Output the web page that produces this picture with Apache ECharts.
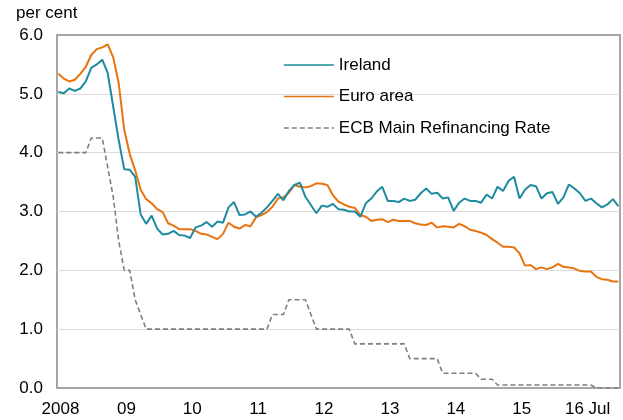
<!DOCTYPE html>
<html>
<head>
<meta charset="utf-8">
<script src="https://cdn.jsdelivr.net/npm/echarts@6/dist/echarts.min.js"></script>
<style>
html,body{margin:0;padding:0;background:#fff;}
#chart{width:623px;height:420px;}
</style>
</head>
<body>
<div id="chart"></div>
<script>
// Monthly data, Jan 2008 .. Jul 2016 (month index 0..102)
var ireland = [
  5.03,5.01,5.09,5.05,5.09,5.21,5.44,5.50,5.58,5.35,4.78,4.21,
  3.72,3.71,3.59,2.95,2.79,2.93,2.71,2.61,2.62,2.67,2.60,2.59,
  2.55,2.73,2.76,2.82,2.74,2.83,2.81,3.07,3.16,2.94,2.95,3.00,
  2.91,2.98,3.07,3.18,3.30,3.19,3.35,3.45,3.49,3.25,3.11,2.97,
  3.10,3.08,3.13,3.04,3.03,3.00,3.00,2.91,3.14,3.22,3.34,3.42,
  3.18,3.18,3.16,3.22,3.18,3.20,3.31,3.39,3.30,3.32,3.22,3.24,
  3.01,3.15,3.22,3.18,3.18,3.15,3.29,3.22,3.42,3.35,3.52,3.59,
  3.22,3.37,3.45,3.43,3.22,3.31,3.33,3.13,3.24,3.46,3.39,3.31,
  3.18,3.22,3.14,3.07,3.12,3.21,3.09
];
var euroArea = [
  5.34,5.26,5.21,5.24,5.34,5.46,5.66,5.76,5.79,5.84,5.62,5.18,
  4.39,3.98,3.70,3.37,3.21,3.14,3.04,2.99,2.80,2.76,2.70,2.70,
  2.70,2.67,2.62,2.61,2.57,2.53,2.62,2.81,2.74,2.71,2.77,2.75,
  2.90,2.94,2.99,3.08,3.22,3.24,3.32,3.45,3.42,3.41,3.43,3.48,
  3.47,3.45,3.28,3.17,3.12,3.08,3.06,2.94,2.91,2.84,2.86,2.87,
  2.82,2.86,2.84,2.84,2.84,2.80,2.78,2.77,2.81,2.73,2.75,2.74,
  2.73,2.79,2.75,2.69,2.67,2.64,2.60,2.53,2.47,2.40,2.40,2.39,
  2.29,2.08,2.09,2.02,2.05,2.02,2.05,2.11,2.06,2.05,2.03,1.99,
  1.98,1.98,1.89,1.85,1.84,1.81,1.81
];
var ecbRate = [
  4.00,4.00,4.00,4.00,4.00,4.00,4.25,4.25,4.25,3.75,3.25,2.50,
  2.00,2.00,1.50,1.25,1.00,1.00,1.00,1.00,1.00,1.00,1.00,1.00,
  1.00,1.00,1.00,1.00,1.00,1.00,1.00,1.00,1.00,1.00,1.00,1.00,
  1.00,1.00,1.00,1.25,1.25,1.25,1.50,1.50,1.50,1.50,1.25,1.00,
  1.00,1.00,1.00,1.00,1.00,1.00,0.75,0.75,0.75,0.75,0.75,0.75,
  0.75,0.75,0.75,0.75,0.50,0.50,0.50,0.50,0.50,0.50,0.25,0.25,
  0.25,0.25,0.25,0.25,0.25,0.15,0.15,0.15,0.05,0.05,0.05,0.05,
  0.05,0.05,0.05,0.05,0.05,0.05,0.05,0.05,0.05,0.05,0.05,0.05,
  0.05,0.05,0.00,0.00,0.00,0.00,0.00
];
var tickLabels = ['2008','09','10','11','12','13','14','15','16 Jul'];
var tickMonths = [0,12,24,36,48,60,72,84,96];
var seriesNames = ['Ireland','Euro area','ECB Main Refinancing Rate'];

function pairs(arr){ return arr.map(function(v,i){ return [i,v]; }); }
var labelPos = tickMonths.map(function(m){ return m + 0.4; });

var chart = echarts.init(document.getElementById('chart'), null, {renderer:'canvas'});
var font = 'Liberation Sans, Arial, sans-serif';
chart.setOption({
  animation:false,
  backgroundColor:'#fff',
  textStyle:{fontFamily:font},
  title:{
    text:'per cent', left:16, top:5, padding:0,
    textStyle:{fontSize:17, fontWeight:'normal', color:'#000', fontFamily:font}
  },
  legend:{
    orient:'vertical', left:283, top:55, padding:0,
    itemWidth:50, itemHeight:14, itemGap:11.5,
    lineStyle:{width:1.6},
    itemStyle:{color:'rgba(0,0,0,0)', borderColor:'rgba(0,0,0,0)', borderWidth:0},
    textStyle:{fontSize:17, color:'#000', lineHeight:20, fontFamily:font, padding:[0,0,0,0]},
    data:seriesNames
  },
  grid:{
    left:57, right:3, top:35, bottom:32,
    show:true, borderColor:'#a6a6a6', borderWidth:2, backgroundColor:'transparent'
  },
  xAxis:{
    type:'value', min:-0.24, max:102.3,
    axisLine:{show:false}, axisTick:{show:false}, splitLine:{show:false},
    axisLabel:{
      customValues:labelPos, fontSize:17, color:'#000', margin:13, fontFamily:font,
      formatter:function(v){
        var idx = labelPos.indexOf(v);
        if (idx < 0) { idx = Math.round((v-0.4)/12); }
        return tickLabels[idx] || '';
      }
    }
  },
  yAxis:{
    type:'value', min:0, max:6, interval:1,
    axisLine:{show:false}, axisTick:{show:false},
    splitLine:{show:true, showMinLine:false, showMaxLine:false, lineStyle:{color:'#dcdcdc', width:1}},
    axisLabel:{fontSize:17, color:'#000', margin:14, fontFamily:font,
      formatter:function(v){ return v.toFixed(1); }}
  },
  series:[
    {name:seriesNames[0], type:'line', data:pairs(ireland), symbol:'none',
     lineStyle:{color:'#1e8b9f', width:2}, itemStyle:{color:'#1e8b9f'}, z:3},
    {name:seriesNames[1], type:'line', data:pairs(euroArea), symbol:'none',
     lineStyle:{color:'#e8730f', width:2}, itemStyle:{color:'#e8730f'}, z:2},
    {name:seriesNames[2], type:'line', data:pairs(ecbRate), symbol:'none',
     lineStyle:{color:'#7f7f7f', width:1.6, type:[5,3]}, itemStyle:{color:'#7f7f7f'}, z:1}
  ]
});
</script>
</body>
</html>
